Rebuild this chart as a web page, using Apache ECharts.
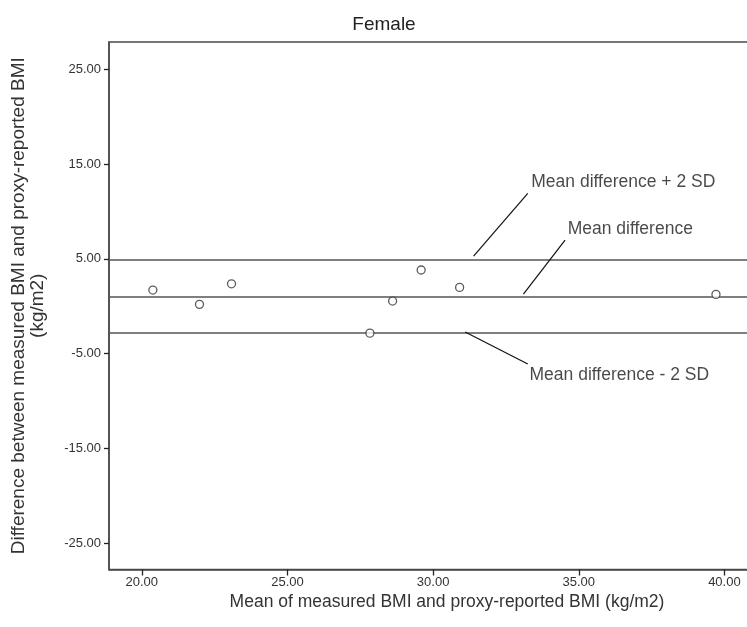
<!DOCTYPE html>
<html>
<head>
<meta charset="utf-8">
<script src="https://cdn.jsdelivr.net/npm/echarts@6/dist/echarts.min.js"></script>
<style>
  html, body { margin: 0; padding: 0; background: #fff; }
  #chart { width: 747px; height: 627px; }
</style>
</head>
<body>
<div id="chart"></div>
<script>
// Bland-Altman plot: measured vs proxy-reported BMI, female respondents
const meanBMI = [20.38, 21.98, 23.08, 27.83, 28.61, 29.59, 30.91, 39.71];
const diffBMI = [1.71, 0.20, 2.37, -2.83, 0.55, 3.82, 1.99, 1.25];

// Limits of agreement and the mean difference
const limitValues = [4.87, 1.00, -2.75];
const limitLabels = ['Mean difference + 2 SD', 'Mean difference', 'Mean difference - 2 SD'];

// Tick labels
const xTicks = [20, 25, 30, 35, 40];
const yTicks = [-25, -15, -5, 5, 15, 25];

// Callout placement in data units: leader line [from, to] and label anchor
const callouts = [
  { line: [[33.25, 11.90], [31.39, 5.29]], text: [33.37, 13.09] },
  { line: [[34.53, 6.98], [33.10, 1.29]], text: [34.62, 8.09] },
  { line: [[31.10, -2.72], [33.25, -6.09]], text: [33.31, -7.25] }
];

const FONT = '"Liberation Sans", Arial, sans-serif';
const INK = '#4a4a4a';

const chart = echarts.init(document.getElementById('chart'), null, { renderer: 'canvas' });

chart.setOption({
  animation: false,
  backgroundColor: '#fff',
  title: {
    text: 'Female',
    left: 379,
    top: 10,
    textAlign: 'center',
    textStyle: { fontFamily: FONT, fontSize: 19, fontWeight: 'normal', color: '#222' }
  },
  grid: {
    left: 109, top: 42, width: 676, height: 527.5,
    outerBoundsMode: 'none',
    containLabel: false,
    show: true, borderColor: INK, borderWidth: 1.5, backgroundColor: '#fff'
  },
  xAxis: {
    type: 'value',
    min: 18.874, max: 42.08,
    name: 'Mean of measured BMI and proxy-reported BMI (kg/m2)',
    nameLocation: 'middle',
    nameGap: 21,
    nameTextStyle: { fontFamily: FONT, fontSize: 17.5, color: '#333' },
    axisLine: { show: true, onZero: false, lineStyle: { color: INK, width: 1.5 } },
    axisTick: { show: true, inside: false, length: 6, customValues: xTicks, lineStyle: { color: '#222', width: 1.3 } },
    axisLabel: { show: true, customValues: xTicks, margin: 6, fontFamily: FONT, fontSize: 13, color: '#333',
      formatter: v => v.toFixed(2) },
    splitLine: { show: false }
  },
  yAxis: {
    type: 'value',
    min: -27.74, max: 27.85,
    name: 'Difference between measured BMI and proxy-reported BMI\n(kg/m2)',
    nameLocation: 'middle',
    nameGap: 62,
    nameRotate: 90,
    nameTextStyle: { fontFamily: FONT, fontSize: 19, color: '#333', lineHeight: 19, align: 'center' },
    axisLine: { show: true, onZero: false, lineStyle: { color: INK, width: 1.5 } },
    axisTick: { show: true, inside: false, length: 5, customValues: yTicks, lineStyle: { color: '#222', width: 1.3 } },
    axisLabel: { show: true, customValues: yTicks, margin: 8, fontFamily: FONT, fontSize: 13, color: '#333',
      formatter: v => v.toFixed(2) },
    splitLine: { show: false }
  },
  series: [
    {
      name: 'limits',
      type: 'line',
      data: [],
      silent: true,
      markLine: {
        silent: true,
        symbol: 'none',
        label: { show: false },
        lineStyle: { color: '#555', width: 1.5, type: 'solid' },
        data: limitValues.map(v => ({ yAxis: v }))
      }
    },
    {
      name: 'callouts',
      type: 'line',
      data: [],
      silent: true,
      markLine: {
        silent: true,
        symbol: 'none',
        label: { show: false },
        lineStyle: { color: '#111', width: 1.2, type: 'solid' },
        data: callouts.map(c => [{ coord: c.line[0] }, { coord: c.line[1] }])
      }
    },
    {
      name: 'callout labels',
      type: 'scatter',
      silent: true,
      symbolSize: 0,
      data: callouts.map((c, i) => ({ value: c.text, name: limitLabels[i] })),
      label: {
        show: true,
        position: 'right',
        distance: 0,
        formatter: p => p.name,
        fontFamily: FONT,
        fontSize: 17.5,
        color: '#1a1a1a'
      }
    },
    {
      name: 'Female',
      type: 'scatter',
      data: meanBMI.map((x, i) => [x, diffBMI[i]]),
      symbol: 'circle',
      symbolSize: 8,
      itemStyle: { color: '#fff', borderColor: '#333', borderWidth: 1.3 },
      z: 5
    }
  ]
});
</script>
</body>
</html>
